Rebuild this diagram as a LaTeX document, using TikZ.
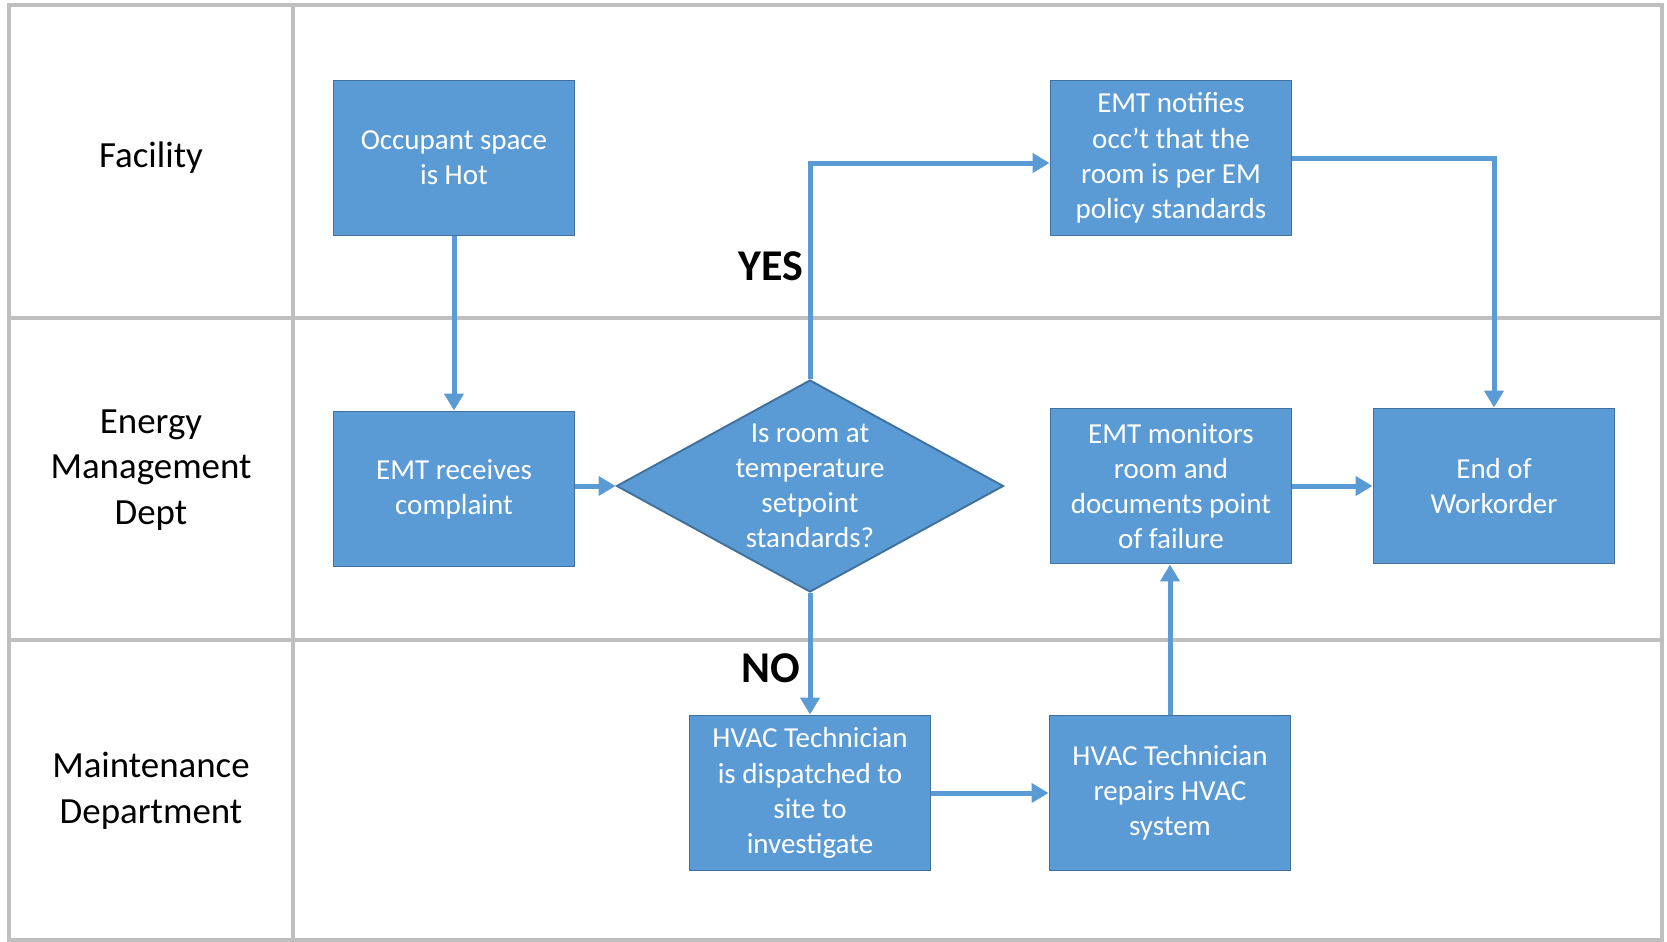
\documentclass[tikz,border=0pt]{standalone}
\usepackage{fontspec}
\setmainfont{Carlito}
\usetikzlibrary{positioning, shapes.geometric, arrows.meta}

\definecolor{boxblue}{HTML}{5B9BD5}
\definecolor{boxedge}{HTML}{41719C}
\definecolor{lanegray}{HTML}{BFBFBF}

\begin{document}
\begin{tikzpicture}[x=0.2mm, y=-0.2mm,
    process/.style={rectangle, draw=boxedge, line width=1.1pt, fill=boxblue,
      text=white, align=center, minimum width=48.2mm, minimum height=31mm,
      font=\fontsize{16.5}{20}\selectfont},
    decision/.style={diamond, draw=boxedge, line width=1.1pt, fill=boxblue,
      text=white, align=center, aspect=1.83, inner sep=-2pt,
      minimum width=77.4mm, minimum height=42.4mm,
      font=\fontsize{16.5}{20}\selectfont},
    lane/.style={align=center, font=\fontsize{21}{26}\selectfont},
    answer/.style={font=\fontsize{25}{30}\selectfont\bfseries},
    flow/.style={draw=boxblue, line width=1mm,
      -{Triangle[length=3.4mm, width=3.8mm]}}]

      \useasboundingbox (0,0) rectangle (1667,942);

      % Swim lanes
      \draw[lanegray, line width=0.8mm] (9,5) rectangle (1662,940);
      \draw[lanegray, line width=0.8mm] (293,5) -- (293,940);
      \draw[lanegray, line width=0.8mm] (9,318) -- (1662,318);
      \draw[lanegray, line width=0.8mm] (9,640) -- (1662,640);

      \node[lane] (facility) at (151,158) {Facility};
      \node[lane] (energy) at (151,470) {Energy\\Management\\Dept};
      \node[lane] (maint) at (151,791) {Maintenance\\Department};

      % Nodes for the work order
      \node[process] (hot) at (454,158) {Occupant space\\is Hot};
      \node[process] (recv) at (454,489) {EMT receives\\complaint};
      \node[decision] (check) at (810,486) {Is room at\\temperature\\setpoint\\standards?};
      \node[process] (notify) at (1171,158) {EMT notifies\\occ’t that the\\room is per EM\\policy standards};
      \node[process] (monitor) at (1171,486) {EMT monitors\\room and\\documents point\\of failure};
      \node[process] (end) at (1494,486) {End of\\Workorder};
      \node[process] (dispatch) at (810,793) {HVAC Technician\\is dispatched to\\site to\\investigate};
      \node[process] (repair) at (1170,793) {HVAC Technician\\repairs HVAC\\system};

      \node[answer] (yes) at (771,266) {YES};
      \node[answer] (no) at (771,668) {NO};

      % Edges for the work order
      \path[flow] (hot) -- (recv);
      \path[flow] (recv.east |- check.west) -- (check.west);
      \path[flow] (check.north) |- ([yshift=-1mm]notify.west);
      \path[flow] (notify.east) -| (end.north);
      \path[flow] (check.south) -- (dispatch.north);
      \path[flow] (dispatch) -- (repair);
      \path[flow] (repair.north) -- (repair.north |- monitor.south);
      \path[flow] (monitor) -- (end);

\end{tikzpicture}
\end{document}
